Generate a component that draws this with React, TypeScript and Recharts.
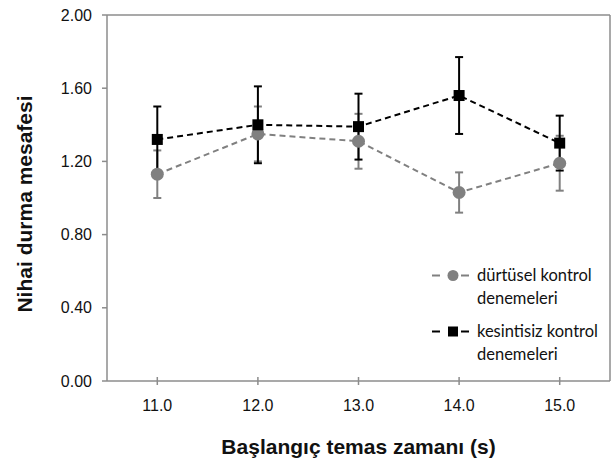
import React from 'react';
import {
  ComposedChart,
  Line,
  XAxis,
  YAxis,
  ErrorBar,
  ReferenceLine,
  Legend,
  Label,
} from 'recharts';

const startTimes = [11, 12, 13, 14, 15];
const impulsive = [1.13, 1.35, 1.31, 1.03, 1.19];
const impulsiveErr = [0.13, 0.15, 0.15, 0.11, 0.15];
const continuous = [1.32, 1.4, 1.39, 1.56, 1.3];
const continuousErr = [0.18, 0.21, 0.18, 0.21, 0.15];

const xTicks = [11, 12, 13, 14, 15];
const yTicks = [0, 0.4, 0.8, 1.2, 1.6, 2.0];

const seriesNames = ['dürtüsel kontrol denemeleri', 'kesintisiz kontrol denemeleri'];

const data = startTimes.map((t, i) => ({
  t,
  imp: impulsive[i],
  impErr: impulsiveErr[i],
  con: continuous[i],
  conErr: continuousErr[i],
}));

const GRAY = '#808080';
const AXIS = '#8c8c8c';
const TICK_FONT = 'Liberation Sans, Arial, sans-serif';

const SquareDot = (props: any) => {
  const { cx, cy } = props;
  if (cx == null || cy == null) return null;
  return <rect x={cx - 5.5} y={cy - 5.5} width={11} height={11} fill="#000" />;
};

const XTick = (props: any) => {
  const { x, y, payload } = props;
  return (
    <g>
      <line x1={x} x2={x} y1={y - 4} y2={y + 4} stroke={AXIS} strokeWidth={1.5} />
      <text x={x} y={y + 30} textAnchor="middle" fontSize={16} fontFamily={TICK_FONT} fill="#111">
        {Number(payload.value).toFixed(1)}
      </text>
    </g>
  );
};

// rotated y title, a little below the plot centre like the original
const YTitle = () => (
  <text
    x={24}
    y={204}
    transform="rotate(-90 24 204)"
    textAnchor="middle"
    dominantBaseline="central"
    fontFamily={TICK_FONT}
    fontSize={21}
    fontWeight="bold"
    fill="#111"
  >
    Nihai durma mesafesi
  </text>
);

const LegendBox = () => {
  const items = [
    { name: seriesNames[0], color: GRAY, shape: 'circle' },
    { name: seriesNames[1], color: '#000', shape: 'square' },
  ];
  return (
    <div style={{ fontFamily: 'Lato, sans-serif', fontSize: 16.5, color: '#111', lineHeight: '23px' }}>
      {items.map((it) => {
        const words = it.name.split(' ');
        return (
          <div key={it.name} style={{ display: 'flex', alignItems: 'flex-start', marginBottom: 10 }}>
            <svg width={45} height={23} style={{ flex: 'none' }}>
              <line x1={0} x2={8} y1={11.5} y2={11.5} stroke={it.color} strokeWidth={2} />
              <line x1={29} x2={37} y1={11.5} y2={11.5} stroke={it.color} strokeWidth={2} />
              {it.shape === 'circle' ? (
                <circle cx={21} cy={11.5} r={5.5} fill={it.color} />
              ) : (
                <rect x={16} y={6.5} width={10} height={10} fill={it.color} />
              )}
            </svg>
            <div>
              <div>{words.slice(0, 2).join(' ')}</div>
              <div>{words.slice(2).join(' ')}</div>
            </div>
          </div>
        );
      })}
    </div>
  );
};

export default function App() {
  return (
    <div style={{ position: 'absolute', left: 0, top: 0, background: '#fff' }}>
      <ComposedChart
        width={611}
        height={462}
        data={data}
        margin={{ top: 15, right: 1, bottom: 0, left: 0 }}
      >
        <XAxis
          dataKey="t"
          type="number"
          domain={[10.5, 15.5]}
          ticks={xTicks}
          allowDataOverflow
          height={81}
          axisLine={{ stroke: AXIS, strokeWidth: 1.5 }}
          tickLine={false}
          tickSize={0}
          tickMargin={0}
          tick={<XTick />}
        >
          <Label
            value="Başlangıç temas zamanı (s)"
            position="insideBottom"
            offset={8}
            style={{ fontFamily: TICK_FONT, fontSize: 21, fontWeight: 'bold', fill: '#111' }}
          />
        </XAxis>
        <YAxis
          type="number"
          domain={[0, 2]}
          ticks={yTicks}
          width={107}
          axisLine={{ stroke: AXIS, strokeWidth: 1.5 }}
          tickLine={{ stroke: AXIS, strokeWidth: 1.5 }}
          tickSize={5}
          tickMargin={10}
          tickFormatter={(v: number) => v.toFixed(2)}
          tick={{ fontSize: 16, fontFamily: TICK_FONT, fill: '#111' }}
        >
          <Label content={<YTitle />} />
        </YAxis>
        <ReferenceLine y={2} stroke={AXIS} strokeWidth={1.5} />
        <ReferenceLine x={15.5} stroke={AXIS} strokeWidth={1.5} />
        <Line
          dataKey="imp"
          name={seriesNames[0]}
          stroke={GRAY}
          strokeWidth={2}
          strokeDasharray="6 4"
          dot={{ r: 6.5, fill: GRAY, stroke: GRAY, strokeWidth: 0 }}
          activeDot={false}
          isAnimationActive={false}
        >
          <ErrorBar dataKey="impErr" direction="y" width={4} stroke={GRAY} strokeWidth={2} />
        </Line>
        <Line
          dataKey="con"
          name={seriesNames[1]}
          stroke="#000"
          strokeWidth={2}
          strokeDasharray="6 4"
          dot={<SquareDot />}
          activeDot={false}
          isAnimationActive={false}
        >
          <ErrorBar dataKey="conErr" direction="y" width={4} stroke="#000" strokeWidth={2} />
        </Line>
        <Legend
          content={<LegendBox />}
          layout="vertical"
          align="center"
          verticalAlign="middle"
          wrapperStyle={{ position: 'absolute', left: 432, top: 264, width: 178 }}
        />
      </ComposedChart>
    </div>
  );
}
